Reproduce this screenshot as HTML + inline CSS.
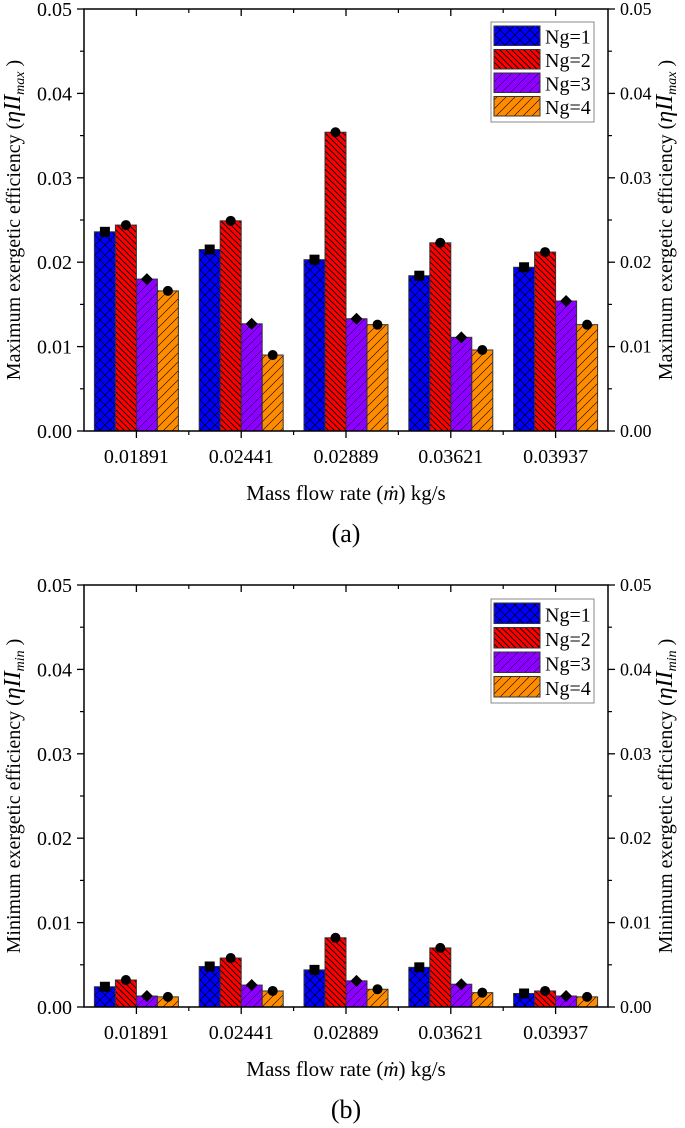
<!DOCTYPE html>
<html><head><meta charset="utf-8"><style>
body{margin:0;background:#fff}
svg{display:block;font-family:"Liberation Serif",serif}
</style></head><body>
<svg id="c" width="685" height="1128" viewBox="0 0 685 1128" xmlns="http://www.w3.org/2000/svg">
<defs>
<pattern id="p1" patternUnits="userSpaceOnUse" width="10" height="10"><rect width="10" height="10" fill="#0000ff"/><path d="M0 0L10 10M10 0L0 10" stroke="#000" stroke-width="0.7"/></pattern>
<pattern id="p2" patternUnits="userSpaceOnUse" width="6" height="6"><rect width="6" height="6" fill="#ff0000"/><path d="M-1 -1L7 7M-1 5L1 7M5 -1L7 1" stroke="#000" stroke-width="0.9"/></pattern>
<pattern id="p3" patternUnits="userSpaceOnUse" width="9" height="9"><rect width="9" height="9" fill="#8b00ff"/><path d="M-1 10L10 -1M-1 1L1 -1M8 10L10 8" stroke="#000" stroke-width="0.5"/></pattern>
<pattern id="p4" patternUnits="userSpaceOnUse" width="9" height="9"><rect width="9" height="9" fill="#ff8c00"/><path d="M-1 10L10 -1M-1 1L1 -1M8 10L10 8" stroke="#000" stroke-width="0.6"/></pattern>
</defs>
</svg>
<script>
const categories=["0.01891","0.02441","0.02889","0.03621","0.03937"];
const seriesNames=["Ng=1","Ng=2","Ng=3","Ng=4"];
const maxNg1=[0.0236,0.0215,0.0203,0.0184,0.0194];
const maxNg2=[0.0244,0.0249,0.0354,0.0223,0.0212];
const maxNg3=[0.0180,0.0127,0.0133,0.0111,0.0154];
const maxNg4=[0.0166,0.0090,0.0126,0.0096,0.0126];
const minNg1=[0.0024,0.0048,0.0044,0.0047,0.0016];
const minNg2=[0.0032,0.0058,0.0082,0.0070,0.0019];
const minNg3=[0.0013,0.0026,0.0031,0.0027,0.0013];
const minNg4=[0.0012,0.0019,0.0021,0.0017,0.0012];
const yTicks=[0,0.01,0.02,0.03,0.04,0.05];
const yTickLabels=["0.00","0.01","0.02","0.03","0.04","0.05"];

const NS="http://www.w3.org/2000/svg";
const svg=document.getElementById('c');
function mk(tag,attrs,parent,text){const e=document.createElementNS(NS,tag);for(const k in attrs)e.setAttribute(k,attrs[k]);if(text!==undefined)e.textContent=text;(parent||svg).appendChild(e);return e;}

function chart(top,bottom,series,sub,panel,legTop){
  const L=84,R=608;
  const g=mk('g',{});
  
  
  const y=v=>bottom-(v/0.05)*(bottom-top);
  const step=(R-L)/categories.length;
  const x=i=>L+step/2+step*i;
  const bw=21;
  const fills=["url(#p1)","url(#p2)","url(#p3)","url(#p4)"];
  series.forEach((s,si)=>{
    s.forEach((v,ci)=>{
      const bx=x(ci)-2*bw+si*bw;
      const r=mk('rect',{x:bx,y:y(v),width:bw,height:bottom-y(v),fill:fills[si],stroke:'#333','stroke-width':1},g);
      
      
      const cx=bx+bw/2,cy=y(v);
      let m;
      if(si===0)m=mk('rect',{x:cx-5,y:cy-5,width:10,height:10,fill:'#000'},g);
      else if(si===2)m=mk('path',{d:`M${cx} ${cy-6}L${cx+6} ${cy}L${cx} ${cy+6}L${cx-6} ${cy}Z`,fill:'#000'},g);
      else m=mk('circle',{cx:cx,cy:cy,r:5,fill:'#000'},g);
      
      
    });
  });
  mk('rect',{x:L,y:top,width:R-L,height:bottom-top,fill:'none',stroke:'#000','stroke-width':1.5},g);
  yTicks.forEach((t,i)=>{
    const ty=y(t);
    mk('line',{x1:L-7,x2:L,y1:ty,y2:ty,stroke:'#000','stroke-width':1.3},g);
    mk('line',{x1:R,x2:R+7,y1:ty,y2:ty,stroke:'#000','stroke-width':1.3},g);
    if(i<yTicks.length-1){const my=y(t+0.005);
      mk('line',{x1:L-4,x2:L,y1:my,y2:my,stroke:'#000','stroke-width':1.2},g);
      mk('line',{x1:R,x2:R+4,y1:my,y2:my,stroke:'#000','stroke-width':1.2},g);}
    const lt=mk('text',{x:L-12,y:ty+7,'text-anchor':'end','font-size':20},g,yTickLabels[i]);
    
    
    const rt=mk('text',{x:R+12,y:ty+6,'font-size':18},g,yTickLabels[i]);
    
    
  });
  categories.forEach((c,i)=>{
    mk('line',{x1:x(i),x2:x(i),y1:bottom,y2:bottom+7,stroke:'#000','stroke-width':1.3},g);
    mk('line',{x1:x(i),x2:x(i),y1:top,y2:top+7,stroke:'#000','stroke-width':1.3},g);
    const xb=L+step*(i+1);
    if(i<categories.length-1){
      mk('line',{x1:xb,x2:xb,y1:bottom,y2:bottom+4,stroke:'#000','stroke-width':1.2},g);
      mk('line',{x1:xb,x2:xb,y1:top,y2:top+4,stroke:'#000','stroke-width':1.2},g);}
    const t=mk('text',{x:x(i),y:bottom+32,'text-anchor':'middle','font-size':20},g,c);
    
    
  });
  const xt=mk('text',{x:346,y:bottom+69,'text-anchor':'middle','font-size':21},g);
  
  
  xt.innerHTML='Mass flow rate (<tspan font-style="italic">ṁ</tspan>) kg/s';
  const pl=mk('text',{x:346,y:bottom+111,'text-anchor':'middle','font-size':26},g,'('+panel+')');
  
  
  const mid=(top+bottom)/2;
  const word=sub==='max'?'Maximum':'Minimum';
  const yt=mk('text',{transform:`translate(20 ${mid}) rotate(-90)`,'text-anchor':'middle','font-size':20},g);
  
  
  yt.innerHTML=word+' exergetic efficiency (<tspan font-style="italic" font-size="24">ηII</tspan><tspan font-style="italic" font-size="14" dy="4">'+sub+'</tspan><tspan dy="-4"> )</tspan>';
  const yt2=mk('text',{transform:`translate(672 ${mid}) rotate(-90)`,'text-anchor':'middle','font-size':20},g);
  
  
  yt2.innerHTML=word+' exergetic efficiency (<tspan font-style="italic" font-size="24">ηII</tspan><tspan font-style="italic" font-size="14" dy="4">'+sub+'</tspan><tspan dy="-4"> )</tspan>';
  const lg=mk('g',{},g);
  
  
  const lh=legTop[1];
  mk('rect',{x:491,y:legTop[0],width:103,height:lh,fill:'#fff',stroke:'#888','stroke-width':1},lg);
  const rh=(lh-6)/4;
  seriesNames.forEach((n,i)=>{
    const ry=legTop[0]+4+i*rh;
    const e=mk('g',{},lg);
    
    
    mk('rect',{x:494,y:ry,width:46,height:rh-4,fill:fills[i],stroke:'#333','stroke-width':1},e);
    mk('text',{x:545,y:ry+rh-6,'font-size':20},e,n);
  });
}
chart(9,431,[maxNg1,maxNg2,maxNg3,maxNg4],'max','a',[22,100]);
chart(585,1007,[minNg1,minNg2,minNg3,minNg4],'min','b',[599,104]);
</script>
</body></html>
